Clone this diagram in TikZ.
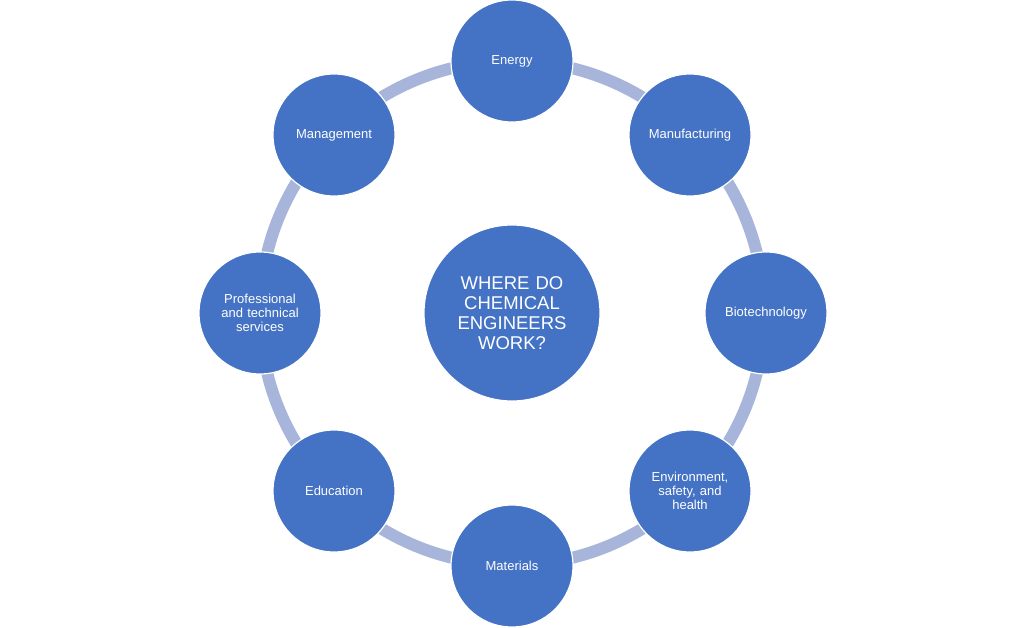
\documentclass[tikz,border=0pt]{standalone}
\usepackage{fontspec}
\setmainfont{Liberation Sans}
\definecolor{nodeblue}{HTML}{4472C4}
\definecolor{ringblue}{HTML}{A8B5DB}
\begin{document}
\begin{tikzpicture}[x=1pt,y=-1pt,
  outer/.style={circle,fill=nodeblue,draw=white,line width=1.2pt,minimum size=122pt,inner sep=0pt,text=white,align=center,font=\fontsize{13}{14}\selectfont,text width=100pt},
  hub/.style={circle,fill=nodeblue,draw=white,line width=1.2pt,minimum size=176pt,inner sep=0pt,text=white,align=center,font=\fontsize{18.5}{20}\selectfont,text width=140pt}]
\useasboundingbox (0,0) rectangle (1024,628);
\fill[white] (0,0) rectangle (1024,628);
\coordinate (c) at (512,313);
\draw[ringblue,line width=12pt] (c) circle[radius=252];
\node[hub] (hub) at (c) {WHERE DO\\CHEMICAL\\ENGINEERS\\WORK?};
\node[outer] (energy) at (512,61) {Energy};
\node[outer] (manu) at (690,135) {Manufacturing};
\node[outer] (bio) at (766,313) {Biotechnology};
\node[outer] (env) at (690,491) {Environment,\\safety, and\\health};
\node[outer] (mat) at (512,566) {Materials};
\node[outer] (edu) at (334,491) {Education};
\node[outer] (prof) at (260,313) {Professional\\and technical\\services};
\node[outer] (mgmt) at (334,135) {Management};
\end{tikzpicture}
\end{document}
